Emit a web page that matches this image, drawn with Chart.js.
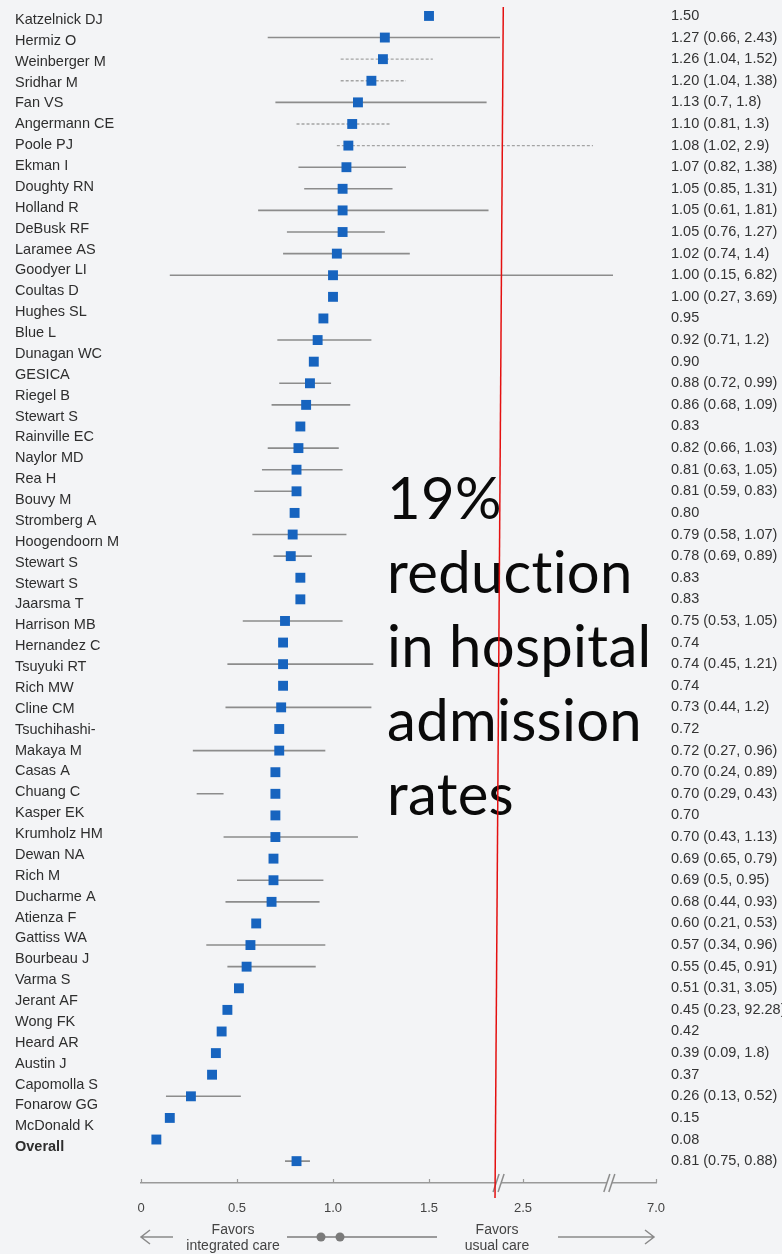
<!DOCTYPE html>
<html>
<head>
<meta charset="utf-8">
<title>Integrated care and hospital admissions</title>
<script src="https://cdn.jsdelivr.net/npm/chart.js@4.4.1/dist/chart.umd.min.js"></script>
<style>
  html, body { margin: 0; padding: 0; background: #f3f4f6; }
  #wrap { width: 782px; height: 1254px; position: relative; }
</style>
</head>
<body>
<div id="wrap"><canvas id="forest"></canvas></div>
<script>
// ---- data -------------------------------------------------------------
// study column (one entry per printed line)
const studyNames = [
  'Katzelnick DJ', 'Hermiz O', 'Weinberger M', 'Sridhar M', 'Fan VS',
  'Angermann CE', 'Poole PJ', 'Ekman I', 'Doughty RN', 'Holland R',
  'DeBusk RF', 'Laramee AS', 'Goodyer LI', 'Coultas D', 'Hughes SL',
  'Blue L', 'Dunagan WC', 'GESICA', 'Riegel B', 'Stewart S',
  'Rainville EC', 'Naylor MD', 'Rea H', 'Bouvy M', 'Stromberg A',
  'Hoogendoorn M', 'Stewart S', 'Stewart S', 'Jaarsma T', 'Harrison MB',
  'Hernandez C', 'Tsuyuki RT', 'Rich MW', 'Cline CM', 'Tsuchihashi-',
  'Makaya M', 'Casas A', 'Chuang C', 'Kasper EK', 'Krumholz HM',
  'Dewan NA', 'Rich M', 'Ducharme A', 'Atienza F', 'Gattiss WA',
  'Bourbeau J', 'Varma S', 'Jerant AF', 'Wong FK', 'Heard AR',
  'Austin J', 'Capomolla S', 'Fonarow GG', 'McDonald K', 'Overall'
];

// relative risk of admission per row (last row = pooled estimate)
const estimates = [
  1.50, 1.27, 1.26, 1.20, 1.13, 1.10, 1.08, 1.07, 1.05, 1.05,
  1.05, 1.02, 1.00, 1.00, 0.95, 0.92, 0.90, 0.88, 0.86, 0.83,
  0.82, 0.81, 0.81, 0.80, 0.79, 0.78, 0.83, 0.83, 0.75, 0.74,
  0.74, 0.74, 0.73, 0.72, 0.72, 0.70, 0.70, 0.70, 0.70, 0.69,
  0.69, 0.68, 0.60, 0.57, 0.55, 0.51, 0.45, 0.42, 0.39, 0.37,
  0.26, 0.15, 0.08, 0.81
];

// 95% confidence limits (null where none reported)
const ciLow = [
  null, 0.66, 1.04, 1.04, 0.7, 0.81, 1.02, 0.82, 0.85, 0.61,
  0.76, 0.74, 0.15, 0.27, null, 0.71, null, 0.72, 0.68, null,
  0.66, 0.63, 0.59, null, 0.58, 0.69, null, null, 0.53, null,
  0.45, null, 0.44, null, 0.27, 0.24, 0.29, null, 0.43, 0.65,
  0.5, 0.44, 0.21, 0.34, 0.45, 0.31, 0.23, null, 0.09, null,
  0.13, null, null, 0.75
];
const ciHigh = [
  null, 2.43, 1.52, 1.38, 1.8, 1.3, 2.9, 1.38, 1.31, 1.81,
  1.27, 1.4, 6.82, 3.69, null, 1.2, null, 0.99, 1.09, null,
  1.03, 1.05, 0.83, null, 1.07, 0.89, null, null, 1.05, null,
  1.21, null, 1.2, null, 0.96, 0.89, 0.43, null, 1.13, 0.79,
  0.95, 0.93, 0.53, 0.96, 0.91, 3.05, 92.28, null, 1.8, null,
  0.52, null, null, 0.88
];

// how each interval is drawn: 'solid', 'dashed' or null (not drawn)
const whiskerStyle = [
  null, 'solid', 'dashed', 'dashed', 'solid', 'dashed', 'dashed', 'solid', 'solid', 'solid',
  'solid', 'solid', 'solid', null, null, 'solid', null, 'solid', 'solid', null,
  'solid', 'solid', 'solid', null, 'solid', 'solid', null, null, 'solid', null,
  'solid', null, 'solid', null, 'solid', null, 'solid', null, 'solid', null,
  'solid', 'solid', null, 'solid', 'solid', null, null, null, null, null,
  'solid', null, null, 'solid'
];

// x axis
const xTickValues = [0, 0.5, 1.0, 1.5, 2.5, 7.0];
const xTickLabels = ['0', '0.5', '1.0', '1.5', '2.5', '7.0'];
// broken axis: value -> fraction of axis length
const axisStops = [
  [0, 0], [1.81, 0.6748], [2.43, 0.6971], [2.5, 0.7417],
  [2.9, 0.8777], [6.82, 0.9165], [7.0, 1]
];
const axisBreaks = [2.38, 6.2];

const noteLines = ['19%', 'reduction', 'in hospital', 'admission', 'rates'];
const leftCaption = ['Favors', 'integrated care'];
const rightCaption = ['Favors', 'usual care'];

// ---- helpers ----------------------------------------------------------
const valueLabels = estimates.map((e, i) =>
  e.toFixed(2) + (ciLow[i] != null ? ` (${ciLow[i]}, ${ciHigh[i]})` : ''));

function axisFraction(v) {
  if (v === null || v === undefined || isNaN(v)) return NaN;
  for (let k = 1; k < axisStops.length; k++) {
    const [v0, f0] = axisStops[k - 1], [v1, f1] = axisStops[k];
    if (v <= v1 || k === axisStops.length - 1) {
      return f0 + (v - v0) / (v1 - v0) * (f1 - f0);
    }
  }
  return NaN;
}
function axisValue(f) {
  for (let k = 1; k < axisStops.length; k++) {
    const [v0, f0] = axisStops[k - 1], [v1, f1] = axisStops[k];
    if (f <= f1 || k === axisStops.length - 1) {
      return v0 + (f - f0) / (f1 - f0) * (v1 - v0);
    }
  }
  return NaN;
}

class BrokenLinearScale extends Chart.LinearScale {
  static id = 'brokenLinear';
  static defaults = {};
  getPixelForValue(value) {
    const f = axisFraction(value);
    return isNaN(f) ? NaN : this.getPixelForDecimal(f);
  }
  getValueForPixel(pixel) {
    return axisValue(this.getDecimalForPixel(pixel));
  }
}
Chart.register(BrokenLinearScale);

function whiskerPoints(style) {
  const pts = [];
  estimates.forEach((_, i) => {
    if (whiskerStyle[i] === style && ciLow[i] != null) {
      pts.push({ x: ciLow[i], y: i }, { x: ciHigh[i], y: i }, { x: null, y: null });
    }
  });
  return pts;
}

const FONT = "'Liberation Sans', Arial, sans-serif";
Chart.defaults.font.family = FONT;

// ---- decorations ------------------------------------------------------
const decorations = {
  id: 'decorations',
  beforeDraw(chart) {
    const { ctx, width, height } = chart;
    ctx.save();
    ctx.fillStyle = '#f3f4f6';
    ctx.fillRect(0, 0, width, height);
    ctx.restore();
  },
  afterDraw(chart) {
    const { ctx, chartArea } = chart;
    const xs = chart.scales.x;
    const axisY = chartArea.bottom;
    ctx.save();

    // small tick marks above the axis line
    ctx.strokeStyle = '#9a9a9a';
    ctx.lineWidth = 1.2;
    xTickValues.forEach(v => {
      const px = Math.round(xs.getPixelForValue(v)) + 0.5;
      ctx.beginPath();
      ctx.moveTo(px, axisY);
      ctx.lineTo(px, axisY - 4);
      ctx.stroke();
    });

    // axis breaks "//"
    axisBreaks.forEach(v => {
      const bx = xs.getPixelForValue(v);
      ctx.fillStyle = '#f3f4f6';
      ctx.beginPath();
      ctx.moveTo(bx - 6, axisY + 9);
      ctx.lineTo(bx, axisY - 9);
      ctx.lineTo(bx + 5, axisY - 9);
      ctx.lineTo(bx - 1, axisY + 9);
      ctx.closePath();
      ctx.fill();
      ctx.strokeStyle = '#8c8c8c';
      ctx.lineWidth = 1.5;
      [[-6, 0], [-1, 5]].forEach(([a, b]) => {
        ctx.beginPath();
        ctx.moveTo(bx + a, axisY + 9);
        ctx.lineTo(bx + b, axisY - 9);
        ctx.stroke();
      });
    });

    // headline annotation
    ctx.fillStyle = '#0a0a0a';
    ctx.font = "58px Lato, 'Open Sans', sans-serif";
    if ('letterSpacing' in ctx) ctx.letterSpacing = '0.3px';
    ctx.textAlign = 'left';
    ctx.textBaseline = 'alphabetic';
    const noteX = chartArea.left + 246;
    noteLines.forEach((t, k) => ctx.fillText(t, noteX, chartArea.top + 512 + k * 74));
    if ('letterSpacing' in ctx) ctx.letterSpacing = '0px';

    // red reference stroke
    ctx.strokeStyle = '#e41010';
    ctx.lineWidth = 1.5;
    ctx.beginPath();
    ctx.moveTo(xs.getPixelForValue(2.44), chartArea.top);
    ctx.lineTo(xs.getPixelForValue(2.16), axisY + 15);
    ctx.stroke();

    // direction captions under the axis
    const capY = axisY + 54;
    ctx.strokeStyle = '#8a8a8a';
    ctx.lineWidth = 1.5;
    const x0 = chartArea.left;
    const x1 = chartArea.right;
    // left arrow
    ctx.beginPath();
    ctx.moveTo(x0 + 32, capY); ctx.lineTo(x0, capY);
    ctx.moveTo(x0 + 9, capY - 7); ctx.lineTo(x0, capY); ctx.lineTo(x0 + 9, capY + 7);
    ctx.stroke();
    // right arrow
    ctx.beginPath();
    ctx.moveTo(x1 - 98, capY); ctx.lineTo(x1 - 2, capY);
    ctx.moveTo(x1 - 11, capY - 7); ctx.lineTo(x1 - 2, capY); ctx.lineTo(x1 - 11, capY + 7);
    ctx.stroke();
    // middle connector with two dots
    ctx.strokeStyle = '#7d7d7d';
    ctx.beginPath();
    ctx.moveTo(x0 + 146, capY); ctx.lineTo(x0 + 296, capY);
    ctx.stroke();
    ctx.fillStyle = '#7a7a7a';
    [x0 + 180, x0 + 199].forEach(cx => {
      ctx.beginPath();
      ctx.arc(cx, capY, 4.5, 0, Math.PI * 2);
      ctx.fill();
    });
    // caption text
    ctx.fillStyle = '#444';
    ctx.font = `14px ${FONT}`;
    ctx.textAlign = 'center';
    ctx.textBaseline = 'middle';
    leftCaption.forEach((t, k) => ctx.fillText(t, x0 + 92, capY - 7 + k * 16));
    rightCaption.forEach((t, k) => ctx.fillText(t, x0 + 356, capY - 7 + k * 16));

    ctx.restore();
  }
};

// ---- chart ------------------------------------------------------------
function build() {
  new Chart(document.getElementById('forest'), {
    type: 'scatter',
    data: {
      datasets: [
        {
          label: 'estimate',
          data: estimates.map((e, i) => ({ x: e, y: i })),
          pointStyle: 'rect',
          pointRadius: 7,
          backgroundColor: '#1764bf',
          borderColor: '#1764bf',
          borderWidth: 0,
          order: 0
        },
        {
          label: 'ci',
          data: whiskerPoints('solid'),
          showLine: true,
          spanGaps: false,
          pointRadius: 0,
          borderColor: '#8c8c8c',
          borderWidth: 1.6,
          order: 1
        },
        {
          label: 'ci-dashed',
          data: whiskerPoints('dashed'),
          showLine: true,
          spanGaps: false,
          pointRadius: 0,
          borderColor: '#a4a4a4',
          borderWidth: 1.4,
          borderDash: [3, 2],
          order: 1
        }
      ]
    },
    options: {
      responsive: true,
      maintainAspectRatio: false,
      animation: false,
      events: [],
      layout: { padding: { left: 15, right: 0, top: 0, bottom: 0 } },
      plugins: { legend: { display: false }, tooltip: { enabled: false }, title: { display: false } },
      scales: {
        x: {
          type: 'brokenLinear',
          position: 'bottom',
          min: 0,
          max: 7,
          afterBuildTicks: s => { s.ticks = xTickValues.map(v => ({ value: v })); },
          afterFit: s => { s.height = 71; s.paddingLeft = 0; s.paddingRight = 0; },
          grid: { display: false, drawTicks: false },
          border: { display: true, color: '#9a9a9a', width: 1.5 },
          ticks: {
            autoSkip: false, maxRotation: 0, padding: 18,
            color: '#444', font: { size: 13 },
            callback: (v, i) => xTickLabels[i]
          }
        },
        y: {
          type: 'linear',
          position: 'right',
          reverse: true,
          min: -0.414,
          max: 54.012,
          afterBuildTicks: s => { s.ticks = estimates.map((_, i) => ({ value: i })); },
          afterFit: s => { s.width = 126; s.paddingTop = 0; s.paddingBottom = 0; },
          grid: { display: false, drawTicks: false },
          border: { display: false },
          ticks: {
            autoSkip: false, padding: 15, crossAlign: 'near',
            color: '#333', font: { size: 14.5 },
            callback: (v, i) => valueLabels[i]
          }
        },
        names: {
          type: 'linear',
          position: 'left',
          reverse: true,
          min: -0.619,
          max: 55.714,
          afterBuildTicks: s => { s.ticks = studyNames.map((_, i) => ({ value: i })); },
          afterFit: s => { s.width = 126; s.paddingTop = 0; s.paddingBottom = 0; },
          grid: { display: false, drawTicks: false },
          border: { display: false },
          ticks: {
            autoSkip: false, padding: 0, crossAlign: 'far',
            color: '#2e2e2e',
            font: ctx => ({ size: 14.5, weight: ctx.index === studyNames.length - 1 ? 'bold' : 'normal' }),
            callback: (v, i) => studyNames[i]
          }
        }
      }
    },
    plugins: [decorations]
  });
}

const fontsReady = document.fonts
  ? Promise.all([document.fonts.load("58px Lato"), document.fonts.load(`14px ${FONT}`)]).catch(() => {})
  : Promise.resolve();
fontsReady.then(build);
</script>
</body>
</html>
